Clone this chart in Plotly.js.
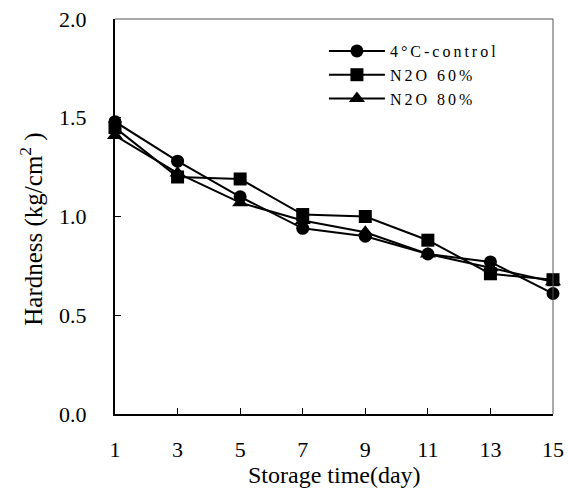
<!DOCTYPE html>
<html>
<head>
<meta charset="utf-8">
<script src="https://cdn.plot.ly/plotly-3.0.1.min.js"></script>
<style>
html,body{margin:0;padding:0;background:#fff;}
#chart{width:569px;height:495px;}
.legendtext{letter-spacing:3px;}
</style>
</head>
<body>
<div id="chart"></div>
<script>
const days = [1, 3, 5, 7, 9, 11, 13, 15];
const control4C = [1.48, 1.28, 1.10, 0.94, 0.90, 0.81, 0.77, 0.61];
const n2o60 = [1.45, 1.20, 1.19, 1.01, 1.00, 0.88, 0.71, 0.68];
const n2o80 = [1.41, 1.22, 1.07, 0.98, 0.92, 0.81, 0.74, 0.67];
const seriesNames = ['4°C-control', 'N2O 60%', 'N2O 80%'];
const yTicks = [0, 0.5, 1.0, 1.5, 2.0];

const font = 'Liberation Serif, Times New Roman, serif';
function tr(name, y, symbol, size) {
  return {
    x: days, y: y, name: name, type: 'scatter', mode: 'lines+markers',
    line: {color: '#000', width: 2},
    marker: {symbol: symbol, size: size, color: '#000'},
    cliponaxis: false
  };
}
const data = [
  tr(seriesNames[0], control4C, 'circle', 13),
  tr(seriesNames[1], n2o60, 'square', 13),
  tr(seriesNames[2], n2o80, 'triangle-up', 14)
];
const layout = {
  width: 569, height: 495,
  margin: {l: 115, r: 16, t: 19, b: 81},
  paper_bgcolor: '#fff', plot_bgcolor: '#fff',
  font: {family: font, color: '#000', size: 22},
  showlegend: true,
  legend: {x: 0.477, y: 0.962, xanchor: 'left', yanchor: 'top', itemwidth: 56,
    bgcolor: 'rgba(0,0,0,0)', font: {family: font, size: 16}, tracegroupgap: 0},
  xaxis: {
    range: [1, 15], tickvals: days, ticktext: days.map(String),
    ticks: 'inside', ticklen: 6, tickcolor: '#000', tickwidth: 1,
    showline: true, linecolor: '#000', linewidth: 2, showgrid: false, zeroline: false,
    ticklabelstandoff: 15,
    tickfont: {family: font, size: 22}
  },
  yaxis: {
    range: [0, 2], tickvals: yTicks, ticktext: yTicks.map(v => v.toFixed(1)),
    ticks: 'inside', ticklen: 6, tickcolor: '#000', tickwidth: 1,
    showline: true, linecolor: '#000', linewidth: 2, showgrid: false, zeroline: false,
    ticklabelstandoff: 22,
    tickfont: {family: font, size: 22}
  },
  shapes: [
    {type: 'line', xref: 'paper', yref: 'paper', x0: 0, x1: 1, y0: 1, y1: 1, line: {color: '#555', width: 1}},
    {type: 'line', xref: 'paper', yref: 'paper', x0: 1, x1: 1, y0: 0, y1: 1, line: {color: '#555', width: 1}}
  ],
  annotations: [
    {text: 'Hardness (kg/cm<sup>2</sup> )', textangle: -90, xref: 'paper', yref: 'paper',
     x: -0.1895, y: 0.469, xanchor: 'center', yanchor: 'middle', showarrow: false,
     font: {family: font, size: 25, color: '#000'}},
    {text: 'Storage time(day)', xref: 'paper', yref: 'paper',
     x: 0.5, y: -0.155, xanchor: 'center', yanchor: 'middle', showarrow: false,
     font: {family: font, size: 24, color: '#000'}}
  ]
};
Plotly.newPlot('chart', data, layout, {displayModeBar: false, staticPlot: true});
</script>
</body>
</html>
